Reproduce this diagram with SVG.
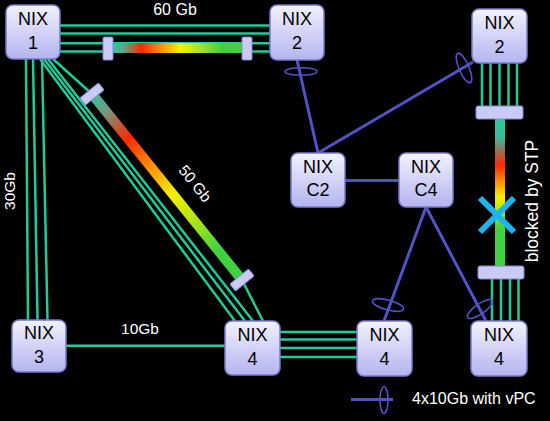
<svg xmlns="http://www.w3.org/2000/svg" width="550" height="421" viewBox="0 0 550 421">
<defs>
<linearGradient id="boxg" x1="0" y1="0" x2="0" y2="1">
<stop offset="0" stop-color="#f2f2ff"/>
<stop offset="1" stop-color="#b4b4f0"/>
</linearGradient>
<linearGradient id="gh" gradientUnits="userSpaceOnUse" x1="113" y1="48" x2="242" y2="48">
<stop offset="0" stop-color="#2cc8a0"/>
<stop offset="0.08" stop-color="#5aa888"/>
<stop offset="0.22" stop-color="#ff2800"/>
<stop offset="0.36" stop-color="#ff8a00"/>
<stop offset="0.52" stop-color="#f4f000"/>
<stop offset="0.68" stop-color="#a4e41c"/>
<stop offset="0.85" stop-color="#40d040"/>
<stop offset="1" stop-color="#40d040"/>
</linearGradient>
<linearGradient id="gd" gradientUnits="userSpaceOnUse" x1="92" y1="94" x2="242" y2="280">
<stop offset="0" stop-color="#2cc8a0"/>
<stop offset="0.1" stop-color="#7a9478"/>
<stop offset="0.24" stop-color="#ff2800"/>
<stop offset="0.38" stop-color="#ff8a00"/>
<stop offset="0.54" stop-color="#f4f000"/>
<stop offset="0.7" stop-color="#a4e41c"/>
<stop offset="0.84" stop-color="#40d040"/>
<stop offset="1" stop-color="#40d040"/>
</linearGradient>
<linearGradient id="gv" gradientUnits="userSpaceOnUse" x1="500" y1="119" x2="500" y2="267">
<stop offset="0" stop-color="#2cc8a0"/>
<stop offset="0.12" stop-color="#3cbc98"/>
<stop offset="0.22" stop-color="#a06a50"/>
<stop offset="0.31" stop-color="#ff2800"/>
<stop offset="0.42" stop-color="#ff8a00"/>
<stop offset="0.53" stop-color="#f4f000"/>
<stop offset="0.64" stop-color="#a4e41c"/>
<stop offset="0.74" stop-color="#40d040"/>
<stop offset="1" stop-color="#40d040"/>
</linearGradient>
</defs>
<style>
.g{stroke:#22c99b;stroke-width:2.5;fill:none}
.b{stroke:#5252c6;stroke-width:3;fill:none}
.el{stroke:#5252c6;stroke-width:1.6;fill:none}
.cap{fill:#cacaf6;stroke:#8a8ad0;stroke-width:1}
.box{fill:url(#boxg);stroke:#7a7ac8;stroke-width:1.5}
.nt{font-family:"Liberation Sans",Arial,sans-serif;font-size:18px;fill:#000;text-anchor:middle}
.lab{font-family:"Liberation Sans",Arial,sans-serif;fill:#fff}
</style>
<rect x="0" y="0" width="550" height="421" fill="#000"/>

<g id="connectors">
<line class="g" x1="60" y1="25.5" x2="270" y2="25.5"/>
<line class="g" x1="60" y1="33.5" x2="270" y2="33.5"/>
<line class="g" x1="60" y1="43.3" x2="270" y2="43.3"/>
<line class="g" x1="60" y1="51.5" x2="270" y2="51.5"/>
<line x1="113" y1="48" x2="242" y2="48" stroke="url(#gh)" stroke-width="10"/>
<rect class="cap" x="103" y="37" width="10" height="23" rx="1.5"/>
<rect class="cap" x="242" y="37" width="10" height="23" rx="1.5"/>
<line class="g" x1="26" y1="59" x2="28" y2="320"/>
<line class="g" x1="33" y1="59" x2="37.5" y2="320"/>
<line class="g" x1="42" y1="59" x2="47.5" y2="320"/>
<line class="g" x1="40" y1="59" x2="235" y2="321"/>
<line class="g" x1="44" y1="59" x2="245" y2="321"/>
<line class="g" x1="48" y1="59" x2="253" y2="321"/>
<line class="g" x1="53" y1="59" x2="92" y2="94"/>
<line class="g" x1="242" y1="280" x2="263" y2="321"/>
<line x1="92" y1="94" x2="242" y2="280" stroke="url(#gd)" stroke-width="10"/>
<rect class="cap" x="80" y="89.5" width="24" height="9" rx="1.5" transform="rotate(-39 92 94)"/>
<rect class="cap" x="230" y="275.5" width="24" height="9" rx="1.5" transform="rotate(-39 242 280)"/>
<line class="g" x1="66" y1="345.7" x2="225" y2="345.7"/>
<line class="g" x1="280" y1="332" x2="357" y2="332"/>
<line class="g" x1="280" y1="339.5" x2="357" y2="339.5"/>
<line class="g" x1="280" y1="348" x2="357" y2="348"/>
<line class="g" x1="280" y1="357" x2="357" y2="357"/>
<line class="g" x1="482" y1="63" x2="482" y2="106"/>
<line class="g" x1="490.5" y1="63" x2="490.5" y2="106"/>
<line class="g" x1="499.5" y1="63" x2="499.5" y2="106"/>
<line class="g" x1="508.5" y1="63" x2="508.5" y2="106"/>
<line class="g" x1="517" y1="63" x2="517" y2="106"/>
<line x1="500" y1="119" x2="500" y2="267" stroke="url(#gv)" stroke-width="10"/>
<rect class="cap" x="476" y="106" width="47" height="13" rx="2"/>
<line class="g" x1="492" y1="279" x2="492" y2="321"/>
<line class="g" x1="501" y1="279" x2="501" y2="321"/>
<line class="g" x1="510" y1="279" x2="510" y2="321"/>
<line class="g" x1="518.5" y1="279" x2="518.5" y2="321"/>
<rect class="cap" x="478" y="266" width="46" height="13" rx="2"/>
<line x1="480" y1="198" x2="514" y2="232" stroke="#1cb6ee" stroke-width="6"/>
<line x1="480" y1="232" x2="514" y2="198" stroke="#1cb6ee" stroke-width="6"/>
<line class="b" x1="297" y1="60" x2="318" y2="153"/>
<ellipse class="el" cx="301" cy="71.5" rx="16" ry="3.8"/>
<line class="b" x1="318" y1="153" x2="473" y2="62"/>
<ellipse class="el" cx="464" cy="68" rx="5" ry="16" transform="rotate(-23 464 68)"/>
<line class="b" x1="345" y1="180.5" x2="399" y2="180.5"/>
<line class="b" x1="426" y1="207" x2="384" y2="321"/>
<ellipse class="el" cx="388" cy="305" rx="16" ry="5" transform="rotate(15 388 305)"/>
<line class="b" x1="426" y1="207" x2="486" y2="321"/>
<ellipse class="el" cx="480" cy="309" rx="15" ry="5" transform="rotate(-35 480 309)"/>
<line class="b" x1="351" y1="399.5" x2="393" y2="399.5"/>
<ellipse class="el" cx="384" cy="400" rx="4" ry="13.5"/>
</g>

<g id="labels">
<text class="lab" x="175" y="15" font-size="16" text-anchor="middle">60 Gb</text>
<text class="lab" x="15" y="191" font-size="15.5" text-anchor="middle" transform="rotate(-90 15 191)">30Gb</text>
<text class="lab" x="191" y="187" font-size="15.5" text-anchor="middle" transform="rotate(51 191 187)">50 Gb</text>
<text class="lab" x="140" y="334" font-size="15.5" text-anchor="middle">10Gb</text>
<text class="lab" x="538" y="201" font-size="17.5" text-anchor="middle" transform="rotate(-90 538 201)">blocked by STP</text>
<text class="lab" x="412" y="404" font-size="16">4x10Gb with vPC</text>
</g>

<g id="nix1"><rect class="box" x="6" y="5" width="54" height="54" rx="7"/><text class="nt" x="33" y="25">NIX</text><text class="nt" x="33" y="49">1</text></g>
<g id="nix2"><rect class="box" x="270" y="5" width="54" height="55" rx="7"/><text class="nt" x="297" y="25">NIX</text><text class="nt" x="297" y="49">2</text></g>
<g id="nix2r"><rect class="box" x="472" y="9" width="55" height="54" rx="7"/><text class="nt" x="499.5" y="29">NIX</text><text class="nt" x="499.5" y="53">2</text></g>
<g id="nixc2"><rect class="box" x="291" y="153" width="54" height="54" rx="7"/><text class="nt" x="318" y="173">NIX</text><text class="nt" x="318" y="196">C2</text></g>
<g id="nixc4"><rect class="box" x="399" y="153" width="54" height="54" rx="7"/><text class="nt" x="426" y="173">NIX</text><text class="nt" x="426" y="196">C4</text></g>
<g id="nix3"><rect class="box" x="12" y="320" width="54" height="52" rx="7"/><text class="nt" x="39" y="339">NIX</text><text class="nt" x="39" y="363">3</text></g>
<g id="nix4a"><rect class="box" x="225" y="321" width="55" height="54" rx="7"/><text class="nt" x="252.5" y="341">NIX</text><text class="nt" x="252.5" y="365">4</text></g>
<g id="nix4b"><rect class="box" x="357" y="321" width="55" height="55" rx="7"/><text class="nt" x="384.5" y="341">NIX</text><text class="nt" x="384.5" y="365">4</text></g>
<g id="nix4c"><rect class="box" x="471" y="321" width="56" height="55" rx="7"/><text class="nt" x="499" y="341">NIX</text><text class="nt" x="499" y="365">4</text></g>
</svg>
